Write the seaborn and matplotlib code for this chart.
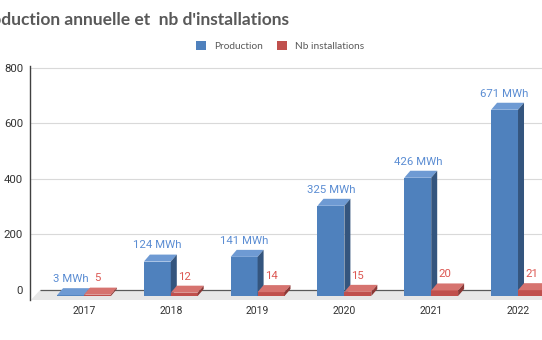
import numpy as np
import pandas as pd
import matplotlib
matplotlib.use("Agg")
import matplotlib.pyplot as plt
from matplotlib.patches import Polygon, Patch
from matplotlib.transforms import offset_copy
import seaborn as sns

# ---- data -------------------------------------------------------------
years = ["2017", "2018", "2019", "2020", "2021", "2022"]
production_mwh = [3, 124, 141, 325, 426, 671]
nb_installations = [5, 12, 14, 15, 20, 21]
series_names = ["Production", "Nb installations"]
y_ticks = [0, 200, 400, 600, 800]

title_text = "Production annuelle et  nb d'installations"

# ---- colours ----------------------------------------------------------
front_cols = {"Production": "#4F81BD", "Nb installations": "#C0504D"}
top_cols = {"Production": "#6E9AD3", "Nb installations": "#D6736F"}
side_cols = {"Production": "#34557E", "Nb installations": "#8C3836"}
label_cols = {"Production": "#5B8DD3", "Nb installations": "#DC5752"}
grey_txt = "#595959"

df = pd.DataFrame({
    "year": years * 2,
    "series": [series_names[0]] * len(years) + [series_names[1]] * len(years),
    "value": production_mwh + nb_installations,
})

sns.set_theme(style="white")
plt.rcParams["font.family"] = ["Roboto", "DejaVu Sans"]

W, H, DPI = 542, 340, 100
fig = plt.figure(figsize=(W / DPI, H / DPI), dpi=DPI)

# axes box in pixels (extends past the right border, as the chart is cut there)
ax_l, ax_r, ax_b, ax_t = 30, 572, 300, 66
ax = fig.add_axes([ax_l / W, (H - ax_b) / H, (ax_r - ax_l) / W, (ax_b - ax_t) / H])

xlim = (-0.622, 5.622)
ylim = (-36.0, 807.0)
px_per_x = (ax_r - ax_l) / (xlim[1] - xlim[0])
px_per_y = (ax_b - ax_t) / (ylim[1] - ylim[0])

sns.barplot(data=df, x="year", y="value", hue="series", order=years,
            hue_order=series_names, palette=front_cols, width=0.62,
            saturation=1, linewidth=0, legend=False, ax=ax)
ax.set_xlim(*xlim)
ax.set_ylim(*ylim)
bars = list(ax.patches)

# 3D look: bars sit in front of the back wall, shifted down by the floor depth
floor_dy = 6                 # px
depth_dx, depth_dy = 6, 7    # px
front_tr = offset_copy(ax.transData, fig=fig, x=0, y=-floor_dy, units="dots")
ddx = depth_dx / px_per_x
ddy = depth_dy / px_per_y

# grid lines on the back wall
for t in y_ticks[1:]:
    ax.axhline(t, color="#D9D9D9", lw=0.8, zorder=0.5)

# floor
floor = Polygon([(xlim[0] + 10 / px_per_x, 0), (xlim[1], 0),
                 (xlim[1], -11 / px_per_y), (xlim[0], -11 / px_per_y)],
                closed=True, facecolor="#E7E7E7", edgecolor="none", zorder=0.6)
ax.add_patch(floor)
ax.plot([xlim[0] + 10 / px_per_x, xlim[1]], [0, 0], color="#595959", lw=0.9,
        zorder=0.7, solid_capstyle="butt")

# seaborn draws hue groups in order: first all Production bars, then Nb installations
for k, p in enumerate(bars):
    s = series_names[k // len(years)]
    vals = production_mwh if s == "Production" else nb_installations
    v = vals[k % len(years)]
    x0, w = p.get_x(), p.get_width()
    z = 2 + (k % len(years)) * 2 + (k // len(years))
    p.set_transform(front_tr)
    p.set_zorder(z)
    top = Polygon([(x0, v), (x0 + w, v), (x0 + w + ddx, v + ddy), (x0 + ddx, v + ddy)],
                  closed=True, facecolor=top_cols[s], edgecolor="none",
                  transform=front_tr, zorder=z)
    side = Polygon([(x0 + w, 0), (x0 + w, v), (x0 + w + ddx, v + ddy), (x0 + w + ddx, ddy)],
                   closed=True, facecolor=side_cols[s], edgecolor="none",
                   transform=front_tr, zorder=z)
    ax.add_patch(top)
    ax.add_patch(side)
    lab = f"{v} MWh" if s == "Production" else f"{v}"
    ax.annotate(lab, (x0 + w / 2, v + ddy), xycoords=front_tr,
                xytext=(0, 3), textcoords="offset points", ha="center", va="bottom",
                color=label_cols[s], fontsize=8.2, zorder=20)

# axes styling
for sp in ["top", "right", "bottom"]:
    ax.spines[sp].set_visible(False)
ax.spines["left"].set_color("#404040")
ax.spines["left"].set_linewidth(1.0)
ax.set_yticks(y_ticks)
ax.set_yticklabels([str(t) for t in y_ticks])
ax.tick_params(axis="y", length=0, pad=5, labelsize=8.2, labelcolor="#333333")
ax.tick_params(axis="x", length=0, pad=4, labelsize=7.5, labelcolor="#333333")
ax.set_xlabel("")
ax.set_ylabel("")
ax.grid(False)

# title (its start runs past the left border of the figure)
fig.text(289 / W, (H - 25) / H, title_text, ha="right", va="baseline",
         fontsize=12.5, fontweight="bold", color=grey_txt, family=["Lato", "DejaVu Sans"])

# legend
handles = [Patch(facecolor=front_cols[s], edgecolor="none") for s in series_names]
fig.legend(handles, series_names, loc="center", bbox_to_anchor=(280 / W, (H - 46) / H),
           ncol=2, frameon=False, handlelength=1.0, handleheight=1.0,
           handletextpad=0.8, columnspacing=1.4, labelcolor=grey_txt,
           prop={"family": ["Lato", "DejaVu Sans"], "size": 7.3})

fig.savefig("out.png", dpi=DPI)
